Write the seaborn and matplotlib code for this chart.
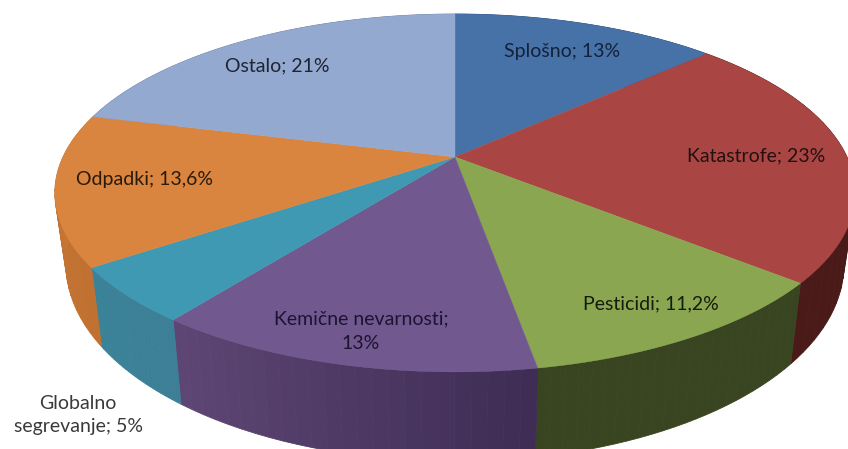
import numpy as np
import matplotlib
matplotlib.use('Agg')
import matplotlib.pyplot as plt
import seaborn as sns

# shares of the pie, clockwise from the top
categories = ['Splošno', 'Katastrofe', 'Pesticidi', 'Kemične nevarnosti',
              'Globalno segrevanje', 'Odpadki', 'Ostalo']
values = [13, 23, 11.2, 13, 5, 13.6, 21]
labels = ['Splošno; 13%', 'Katastrofe; 23%', 'Pesticidi; 11,2%', 'Kemične nevarnosti;\n13%',
          'Globalno\nsegrevanje; 5%', 'Odpadki; 13,6%', 'Ostalo; 21%']

top_colors = ['#4672a8', '#a94644', '#8ba650', '#71588f', '#4099b2', '#d9843f', '#93a9cf']
side_from = ['#2d4a6e', '#4a1a18', '#384520', '#3f2d55', '#3d7f96', '#c07030', '#6a7a96']
side_to = ['#2d4a6e', '#4a1a18', '#384520', '#5e4674', '#3a8298', '#c87a35', '#6a7a96']

label_pos = [(562, 51), (756, 156), (651, 304), (361, 331), (78, 415), (145, 180), (277, 66)]
label_colors = ['#14213a', '#241010', '#151c0c', '#1c1430', '#3a3a3a', '#2a1a0a', '#1e2433']
label_spacing = [1, 1, 1, 1.55, 1.4, 1, 1]

sns.set_theme(style='white')
plt.rcParams['font.family'] = ['Lato', 'DejaVu Sans']


def project(t, lower=False):
    # circle seen in perspective, pixel coordinates of the picture
    u, v = np.sin(t), np.cos(t)
    w = 1 + 0.201 * v
    x = 392 * u / w
    y = 157 - 171.7 * v / w
    if lower:
        x = x * 0.972
        y = y + 79 + (y - 268) * 0.1
    return 455 + x, y


fig, ax = plt.subplots(figsize=(8.48, 4.49), dpi=100)
fig.subplots_adjust(left=0, right=1, bottom=0, top=1)
ax.set_xlim(0, 848)
ax.set_ylim(449, 0)
ax.axis('off')

edges = np.cumsum([0] + values) / sum(values) * 2 * np.pi

# side of the cylinder first, the top covers whatever is behind it
for i in range(len(values)):
    steps = np.linspace(edges[i], edges[i + 1], 25)
    shades = sns.blend_palette([side_from[i], side_to[i]], n_colors=24)
    for j in range(24):
        seg = np.linspace(steps[j], steps[j + 1], 3)
        x0, y0 = project(seg)
        x1, y1 = project(seg[::-1], lower=True)
        ax.fill(np.r_[x0, x1], np.r_[y0, y1], color=shades[j], lw=0.6)

for i in range(len(values)):
    seg = np.linspace(edges[i], edges[i + 1], 120)
    x, y = project(seg)
    ax.fill(np.r_[455, x], np.r_[157, y], color=top_colors[i], lw=0.3)

for i in range(len(labels)):
    ax.text(label_pos[i][0], label_pos[i][1], labels[i], ha='center', va='center',
            fontsize=14, color=label_colors[i], linespacing=label_spacing[i])

fig.savefig('out.png', dpi=100)
